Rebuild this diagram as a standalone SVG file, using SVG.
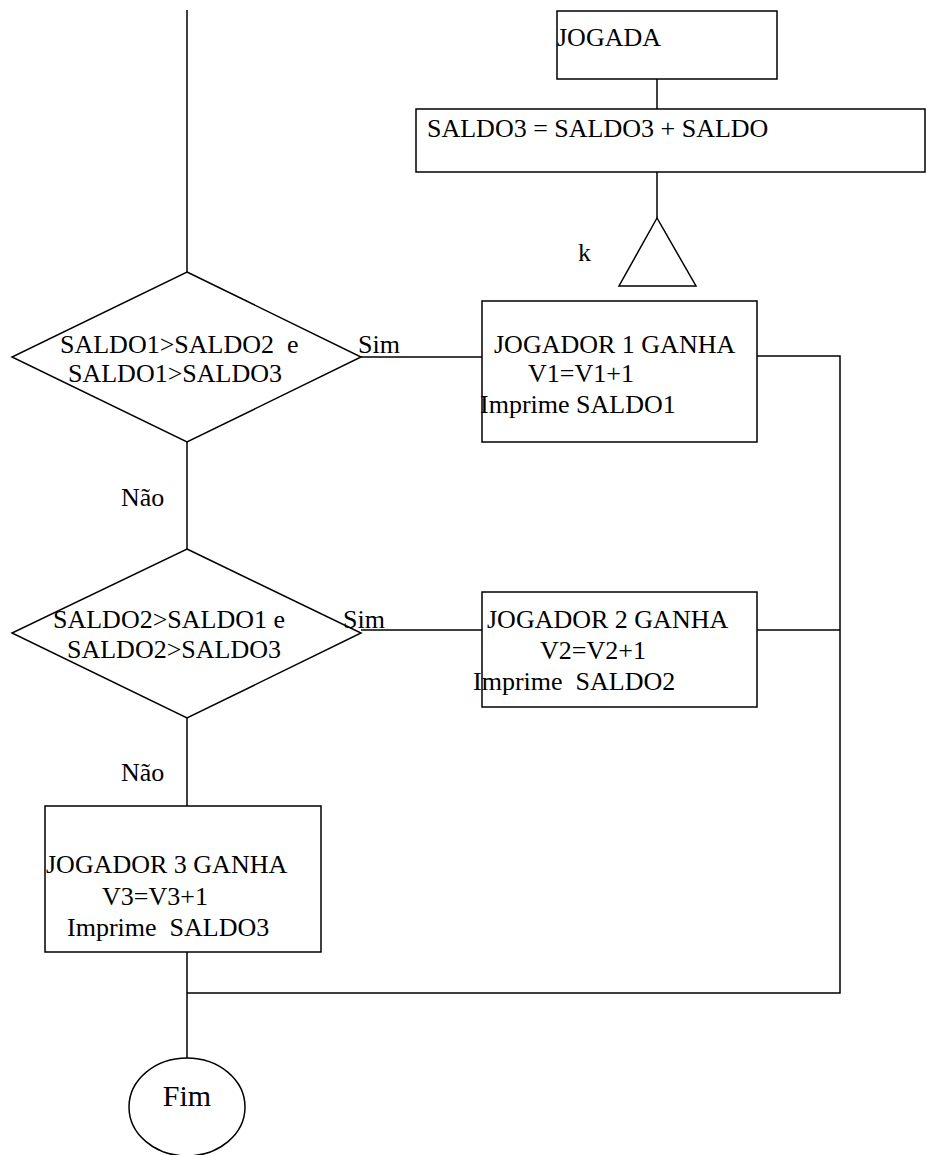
<svg xmlns="http://www.w3.org/2000/svg" width="927" height="1155" viewBox="0 0 927 1155">
<style>
.s{fill:#fff;stroke:#000;stroke-width:1.5}
.c{fill:none;stroke:#000;stroke-width:1.5}
text{font-family:"Liberation Serif","Times New Roman",serif;font-size:26px;fill:#000}
</style>
<rect width="927" height="1155" fill="#fff"/>
<g id="connectors">
<polyline class="c" points="187,10 187,272"/>
<polyline class="c" points="657,79 657,109"/>
<polyline class="c" points="657,172 657,218"/>
<polyline class="c" points="361,357 482,357"/>
<polyline class="c" points="187,442 187,549"/>
<polyline class="c" points="361,630 482,630"/>
<polyline class="c" points="187,718 187,806"/>
<polyline class="c" points="757,356 840,356 840,993 187,993"/>
<polyline class="c" points="757,630 840,630"/>
<polyline class="c" points="187,952 187,1058"/>
</g>
<g id="jogada"><rect class="s" x="557" y="11" width="220" height="68"/><text x="557" y="46">JOGADA</text></g>
<g id="saldo3"><rect class="s" x="416" y="109" width="509" height="63"/><text x="427" y="137">SALDO3 = SALDO3 + SALDO</text></g>
<g id="connector-k"><polygon class="s" points="657,218 619,286 696,286"/><text x="578" y="261">k</text></g>
<g id="decisao1"><polygon class="s" points="187,272 361,357 187,442 12,357"/>
<text x="60" y="353" xml:space="preserve">SALDO1&gt;SALDO2  e</text>
<text x="68" y="382">SALDO1&gt;SALDO3</text></g>
<g id="label-sim1"><text x="358" y="353">Sim</text></g>
<g id="jogador1"><rect class="s" x="482" y="301" width="275" height="141"/>
<text x="494" y="353">JOGADOR 1 GANHA</text>
<text x="528" y="382">V1=V1+1</text>
<text x="480" y="413">Imprime SALDO1</text></g>
<g id="label-nao1"><text x="121" y="506">Não</text></g>
<g id="decisao2"><polygon class="s" points="187,549 361,633 187,718 12,633"/>
<text x="53" y="628">SALDO2&gt;SALDO1 e</text>
<text x="67" y="658">SALDO2&gt;SALDO3</text></g>
<g id="label-sim2"><text x="343" y="628">Sim</text></g>
<g id="jogador2"><rect class="s" x="482" y="592" width="275" height="115"/>
<text x="487" y="628">JOGADOR 2 GANHA</text>
<text x="540" y="659">V2=V2+1</text>
<text x="473" y="690" xml:space="preserve">Imprime  SALDO2</text></g>
<g id="label-nao2"><text x="121" y="781">Não</text></g>
<g id="jogador3"><rect class="s" x="45" y="806" width="276" height="146"/>
<text x="46" y="873">JOGADOR 3 GANHA</text>
<text x="102" y="905">V3=V3+1</text>
<text x="67" y="936" xml:space="preserve">Imprime  SALDO3</text></g>
<g id="fim"><ellipse class="s" cx="187" cy="1107" rx="58" ry="49"/><text x="187" y="1106" text-anchor="middle" style="font-size:30px">Fim</text></g>
</svg>
